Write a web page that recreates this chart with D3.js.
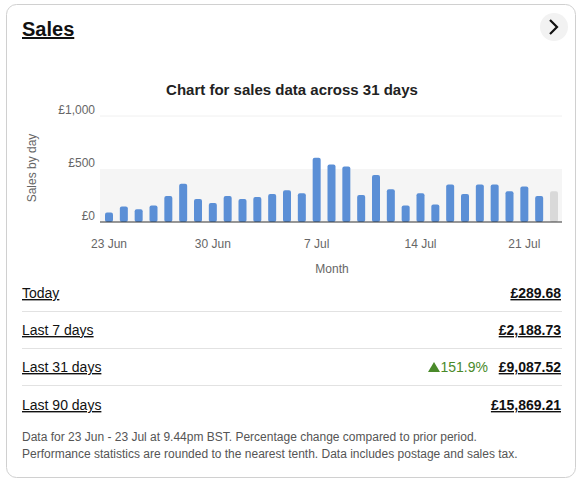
<!DOCTYPE html>
<html><head><meta charset="utf-8">
<script src="https://cdn.jsdelivr.net/npm/d3@7"></script>
<style>
body{margin:0;background:#fff;font-family:Arial,"Liberation Sans",sans-serif}
</style></head><body>
<svg id="c" width="582" height="483"></svg>
<script>
// daily sales, 23 Jun .. 23 Jul
const sales = [90,147,120,156,246,362,216,180,246,216,237,263,299,272,605,542,524,254,443,308,156,272,165,353,263,353,353,290,335,246,290];
const yTicks = [0, 500, 1000];
const tickDays = [0, 7, 14, 21, 28];
const tickLabels = ["23 Jun", "30 Jun", "7 Jul", "14 Jul", "21 Jul"];
const rowLabels = ["Today", "Last 7 days", "Last 31 days", "Last 90 days"];
const rowValues = ["£289.68", "£2,188.73", "£9,087.52", "£15,869.21"];

const svg = d3.select("#c");
svg.append("rect").attr("x", 6.5).attr("y", 4.5).attr("width", 569).attr("height", 473)
  .attr("rx", 10).attr("fill", "#fff").attr("stroke", "#d0d0d0");
svg.append("text").attr("x", 22).attr("y", 36).text("Sales")
  .attr("font-size", 20).attr("font-weight", "bold").attr("fill", "#111").attr("text-decoration", "underline");
svg.append("circle").attr("cx", 554).attr("cy", 27).attr("r", 14).attr("fill", "#f2f2f2");
svg.append("path").attr("d", "M550,20 L557,27 L550,34").attr("fill", "none").attr("stroke", "#111").attr("stroke-width", 2.2);

svg.append("text").attr("x", 292).attr("y", 95).attr("text-anchor", "middle")
  .attr("font-size", 15).attr("font-weight", "bold").attr("fill", "#222").text("Chart for sales data across 31 days");

const x = d3.scaleLinear().domain([0, 30]).range([109, 554]);
const y = d3.scaleLinear().domain([0, 1000]).range([222, 116]);

svg.append("rect").attr("x", 100).attr("width", 462).attr("y", y(500)).attr("height", y(0) - y(500)).attr("fill", "#f5f5f5");
svg.append("line").attr("x1", 100).attr("x2", 562).attr("y1", y(1000)).attr("y2", y(1000)).attr("stroke", "#f0f0f0");

svg.selectAll("rect.bar").data(sales).enter().append("rect").attr("class", "bar")
  .attr("x", (d, i) => x(i) - 4).attr("width", 8)
  .attr("y", d => y(d)).attr("height", d => y(0) - y(d)).attr("rx", 2)
  .attr("fill", (d, i) => i === sales.length - 1 ? "#d9d9d9" : "#5b8fd6");
svg.append("line").attr("x1", 100).attr("x2", 562).attr("y1", y(0)).attr("y2", y(0)).attr("stroke", "#333");

svg.selectAll("text.yt").data(yTicks).enter().append("text").attr("class", "yt")
  .attr("x", 95).attr("y", d => y(d) - 2).attr("text-anchor", "end")
  .attr("font-size", 12).attr("fill", "#666").text(d => "£" + d3.format(",")(d));
svg.selectAll("text.xt").data(tickDays).enter().append("text").attr("class", "xt")
  .attr("x", d => x(d)).attr("y", 248).attr("text-anchor", "middle")
  .attr("font-size", 12).attr("fill", "#666").text((d, i) => tickLabels[i]);
svg.append("text").attr("x", 332).attr("y", 273).attr("text-anchor", "middle").attr("font-size", 12).attr("fill", "#666").text("Month");
svg.append("text").attr("transform", "translate(36,168) rotate(-90)").attr("text-anchor", "middle")
  .attr("font-size", 12).attr("fill", "#666").text("Sales by day");

const rowY = [293, 330, 367, 405];
rowLabels.forEach((l, i) => {
  svg.append("text").attr("x", 22).attr("y", rowY[i] + 5).attr("font-size", 14).attr("fill", "#111")
    .attr("text-decoration", "underline").text(l);
  svg.append("text").attr("x", 561).attr("y", rowY[i] + 5).attr("text-anchor", "end").attr("font-size", 14)
    .attr("font-weight", "bold").attr("fill", "#111").attr("text-decoration", "underline").text(rowValues[i]);
  if (i < 3) svg.append("line").attr("x1", 22).attr("x2", 562).attr("y1", rowY[i] + 18.5).attr("y2", rowY[i] + 18.5).attr("stroke", "#e2e2e2");
});
svg.append("path").attr("d", "M428,372 L434,362 L440,372 Z").attr("fill", "#4a8a2a");
svg.append("text").attr("x", 488).attr("y", 372).attr("text-anchor", "end").attr("font-size", 14).attr("fill", "#4a8a2a").text("151.9%");

svg.append("text").attr("x", 22).attr("y", 441).attr("font-size", 12).attr("fill", "#555")
  .text("Data for 23 Jun - 23 Jul at 9.44pm BST. Percentage change compared to prior period.");
svg.append("text").attr("x", 22).attr("y", 458).attr("font-size", 12).attr("fill", "#555")
  .text("Performance statistics are rounded to the nearest tenth. Data includes postage and sales tax.");
</script></body></html>
